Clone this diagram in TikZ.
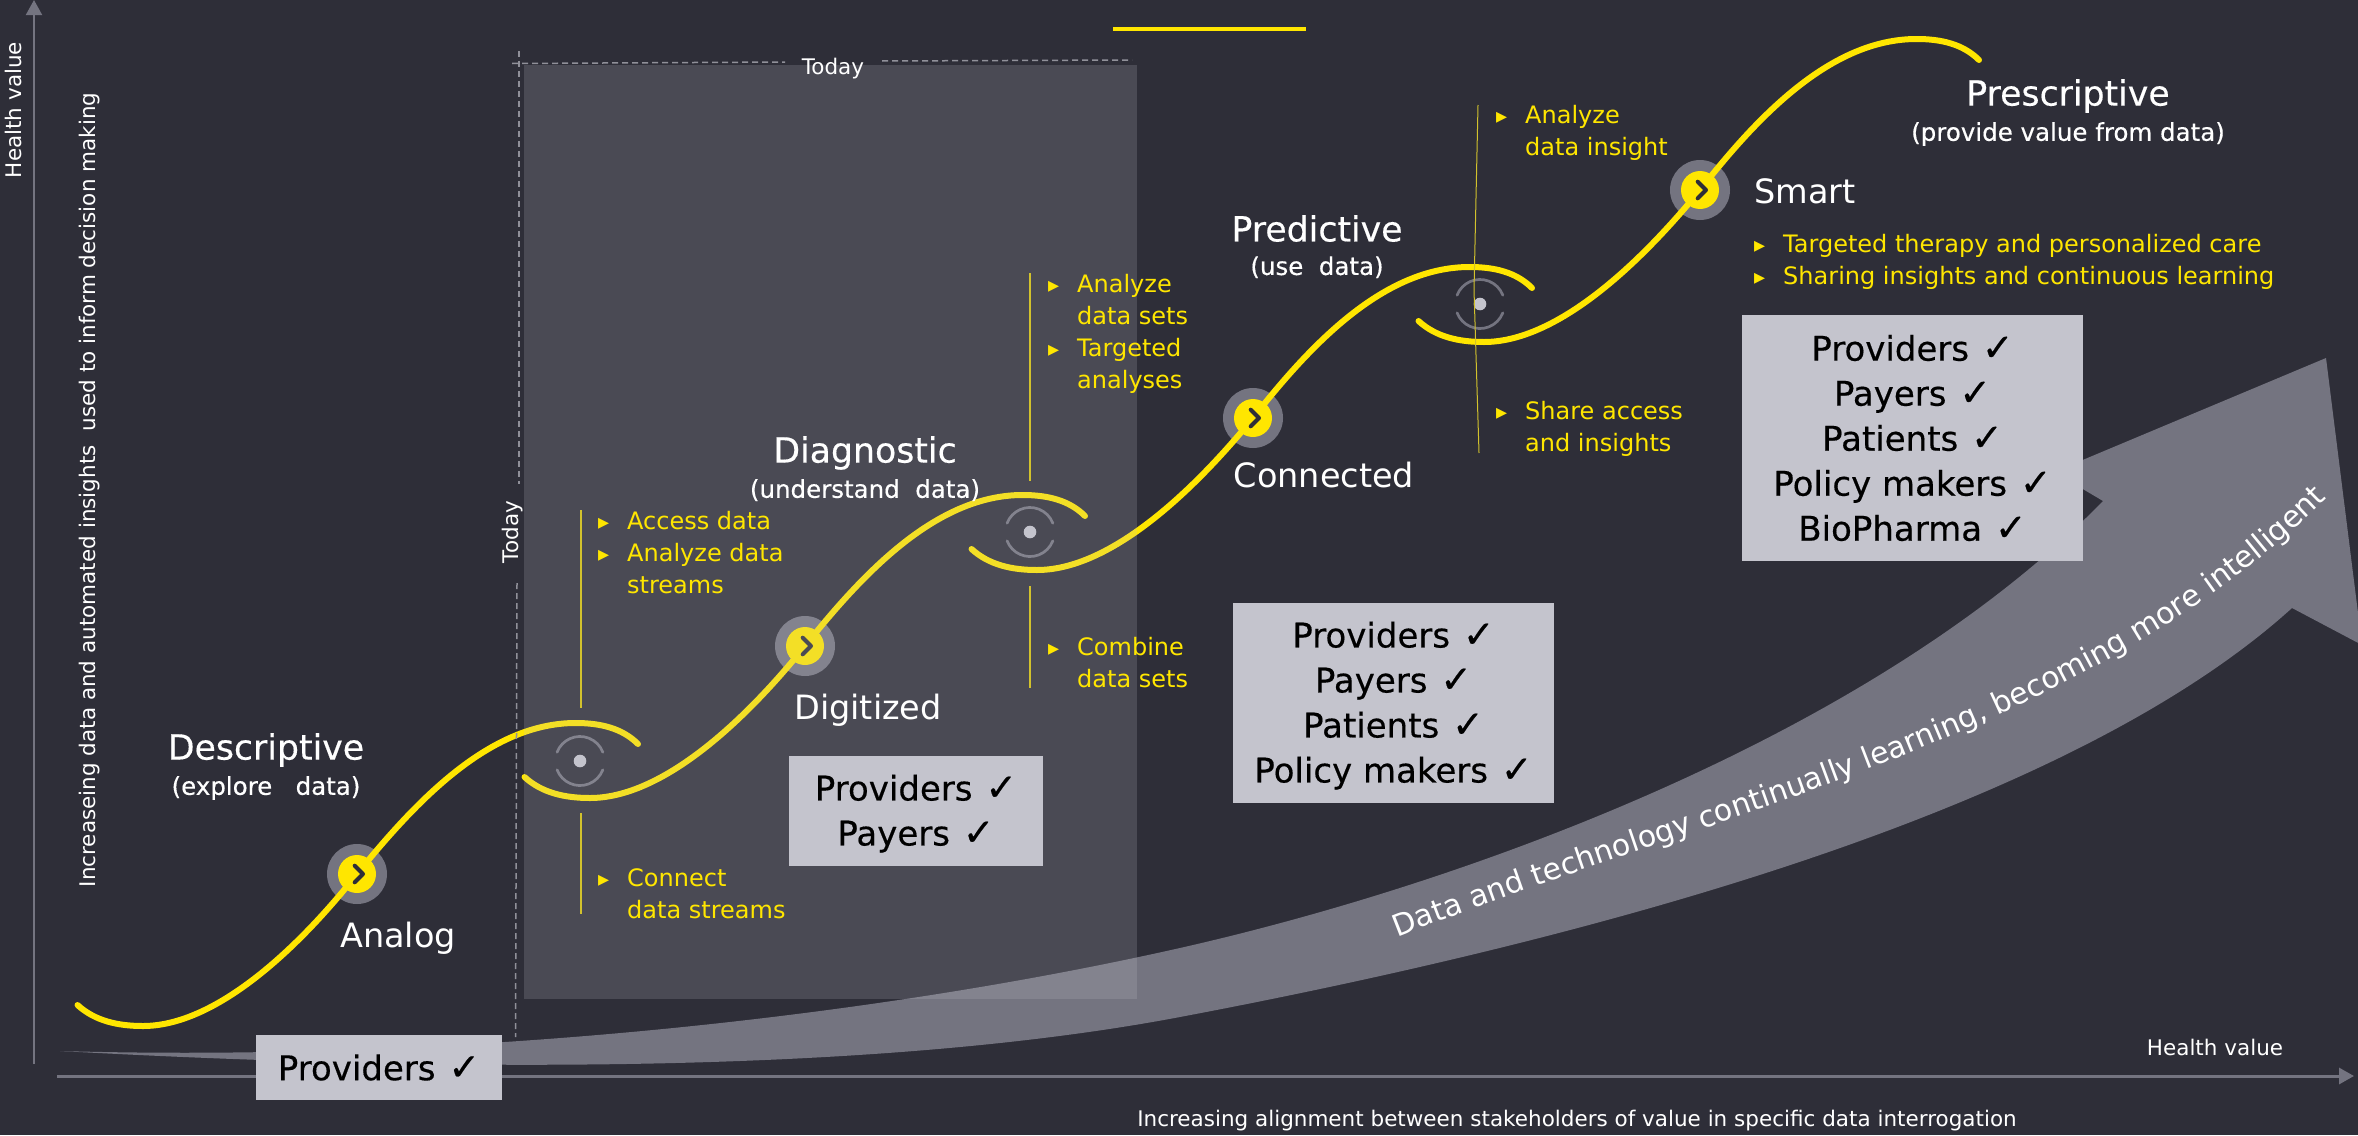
\documentclass[tikz,border=0pt]{standalone}
\usepackage{fontspec}
\setmainfont{DejaVu Sans}
\newfontfamily\semifont[FakeBold=0.4]{DejaVu Sans}
\usetikzlibrary{positioning,arrows.meta,decorations.text}

\definecolor{bgdark}{HTML}{2E2E38}
\definecolor{eyyellow}{HTML}{FFE600}
\definecolor{eygrey}{HTML}{C4C4CD}
\definecolor{midgrey}{HTML}{747480}

\newcommand{\bulletmark}{\makebox[29pt][l]{\fontsize{22}{22}\selectfont ▸}}
\newcommand{\bulletgap}{\hspace*{29pt}}
\newcommand{\tick}{\hspace{2pt}{\fontsize{38}{38}\selectfont ✓}}

\begin{document}
\begin{tikzpicture}[
	x=1pt, y=-1pt,
	every node/.style={inner sep=0pt, text=white},
	stagetitle/.style={font=\semifont\fontsize{34.7}{40}\selectfont},
	stagesub/.style={font=\semifont\fontsize{24.5}{30}\selectfont},
	stagename/.style={font=\fontsize{33.5}{40}\selectfont},
	smalllabel/.style={font=\fontsize{21.5}{26}\selectfont},
	listtext/.style={font=\fontsize{24}{32}\selectfont, text=eyyellow, align=left, anchor=west},
	whobox/.style={rectangle, fill=eygrey, text=black, align=center, font=\semifont\fontsize{34}{45}\selectfont},
	ring/.style={circle, fill=midgrey, minimum size=60pt},
	disc/.style={circle, fill=eyyellow, minimum size=38pt},
	scurve/.style={draw=eyyellow, line width=6pt, line cap=round},
	guide/.style={draw=eyyellow!65!gray, line width=1.3pt},
	axisline/.style={draw=midgrey, -{Triangle[length=15pt,width=16pt]}},
	todayline/.style={draw=midgrey!80!white, line width=1.5pt, dash pattern=on 6pt off 4pt},
	eyemark/.pic={
		\draw [midgrey, line width=2.7pt, line cap=round] (-22.9,-8.8) arc [start angle=159, end angle=21, radius=24.5pt];
		\draw [midgrey, line width=2.7pt, line cap=round] (-22.9,8.8) arc [start angle=201, end angle=339, radius=24.5pt];
		\fill [eygrey] (0,0) circle (6.3pt);
	},
	chevron/.pic={
		\draw [bgdark, line width=4pt, line cap=round, line join=round] (-2.3,-8.3) -- (6,0) -- (-2.3,8.3);
	}
	]

	\useasboundingbox (0,0) rectangle (2358,1135);
	\fill [bgdark] (0,0) rectangle (2358,1135);

	% axes
	\coordinate (ybase) at (34,1064);
	\coordinate (ytop) at (34,0);
	\coordinate (xbase) at (57,1076);
	\coordinate (xtop) at (2354,1076);
	\draw [axisline, line width=2pt] (ybase) -- (ytop);
	\draw [axisline, line width=3pt] (xbase) -- (xtop);

	\coordinate (barl) at (1113,29);
	\coordinate (barr) at (1306,29);
	\draw [draw=eyyellow, line width=4.5pt] (barl) -- (barr);

	% growing arrow
	\fill [midgrey] (60,1051) .. controls (450,1062) and (860,1020) .. (1180,948)
		.. controls (1480,880) and (1880,730) .. (2103,501)
		-- (2054,472) -- (2326,358) -- (2362,645) -- (2292,608)
		.. controls (2080,800) and (1640,930) .. (1180,1017)
		.. controls (900,1070) and (500,1075) .. cycle;

	% stages on the curve
	\node (analog) at (357,874) [ring] {};
	\node (digitized) at (805,646) [ring] {};
	\node (connected) at (1253,418) [ring] {};
	\node (smart) at (1700,190) [ring] {};

	\coordinate (s1) at (77.5,1005);
	\coordinate (e1) at (638,744);
	\coordinate (s2) at (524.5,777);
	\coordinate (e2) at (1085,516);
	\coordinate (s3) at (971.5,549);
	\coordinate (e3) at (1532,288);
	\coordinate (s4) at (1418.5,321);
	\coordinate (e4) at (1979,60);

	\draw [scurve] (s1) .. controls (95,1021) and (118,1026) .. (143,1026) .. controls (215,1026) and (297,950) .. (analog.center) .. controls (417,800) and (490,723) .. (575.6,723) .. controls (600,723) and (622,728) .. (e1);
	\draw [scurve] (s2) .. controls (542,793) and (565,798) .. (590,798) .. controls (662,798) and (744,722) .. (digitized.center) .. controls (864,572) and (937,495) .. (1022.6,495) .. controls (1047,495) and (1069,500) .. (e2);
	\draw [scurve] (s3) .. controls (989,565) and (1012,570) .. (1037,570) .. controls (1109,570) and (1191,494) .. (connected.center) .. controls (1311,344) and (1384,267) .. (1469.6,267) .. controls (1494,267) and (1516,272) .. (e3);
	\draw [scurve] (s4) .. controls (1436,337) and (1459,342) .. (1484,342) .. controls (1556,342) and (1638,266) .. (smart.center) .. controls (1758,116) and (1831,39) .. (1916.6,39) .. controls (1941,39) and (1963,44) .. (e4);

	\node (analogdot) at (analog) [disc] {};
	\node (digitizeddot) at (digitized) [disc] {};
	\node (connecteddot) at (connected) [disc] {};
	\node (smartdot) at (smart) [disc] {};
	\pic at (analog) {chevron};
	\pic at (digitized) {chevron};
	\pic at (connected) {chevron};
	\pic at (smart) {chevron};

	\pic at (580,761) {eyemark};
	\pic at (1030,532) {eyemark};
	\pic at (1480,304) {eyemark};

	% today panel lies over the curve
	\node (panel) at (830.5,532) [rectangle, fill=eygrey, fill opacity=.19, minimum width=613pt, minimum height=934pt] {};

	\coordinate (vt) at (519,51);
	\coordinate (vm) at (519,484);
	\coordinate (vn) at (517,583);
	\coordinate (vb) at (515.5,1037);
	\coordinate (hl) at (512,63.5);
	\coordinate (hm) at (785,62);
	\coordinate (hn) at (882,61);
	\coordinate (hr) at (1132,60);
	\draw [todayline] (vt) -- (vm);
	\draw [todayline] (vn) -- (vb);
	\draw [todayline] (hl) -- (hm);
	\draw [todayline] (hn) -- (hr);
	\node (todayh) at (833,69) [smalllabel] {Today};
	\node (todayv) at (513,532) [smalllabel, rotate=90] {Today};

	% thin lines at the eyes
	\coordinate (g1a) at (581,510);
	\coordinate (g1b) at (581,708);
	\coordinate (g1c) at (581,813);
	\coordinate (g1d) at (581,914);
	\coordinate (g2a) at (1030,273);
	\coordinate (g2b) at (1030,481);
	\coordinate (g2c) at (1030,586);
	\coordinate (g2d) at (1030,688);
	\coordinate (g3a) at (1478,105);
	\coordinate (g3b) at (1474,290);
	\coordinate (g3c) at (1479,453);
	\draw [guide] (g1a) -- (g1b);
	\draw [guide] (g1c) -- (g1d);
	\draw [guide] (g2a) -- (g2b);
	\draw [guide] (g2c) -- (g2d);
	\draw [guide, line width=1pt] (g3a) -- (g3b) -- (g3c);

	% lists
	\node (list1a) at (598,553) [listtext] {\bulletmark Access data\\\bulletmark Analyze data\\\bulletgap streams};
	\node (list1b) at (598,894) [listtext] {\bulletmark Connect\\\bulletgap data streams};
	\node (list2a) at (1048,334) [listtext] {\bulletmark Analyze\\\bulletgap data sets\\\bulletmark Targeted\\\bulletgap analyses};
	\node (list2b) at (1048,663) [listtext] {\bulletmark Combine\\\bulletgap data sets};
	\node (list3a) at (1496,133) [listtext] {\bulletmark Analyze\\\bulletgap data insight};
	\node (list3b) at (1496,429) [listtext] {\bulletmark Share access\\\bulletgap and insights};
	\node (list4) at (1754,262) [listtext] {\bulletmark Targeted therapy and personalized care\\\bulletmark Sharing insights and continuous learning};

	% titles
	\node (descriptive) at (266,750) [stagetitle] {Descriptive};
	\node (descriptivesub) [below=9pt of descriptive, stagesub] {(explore\ \ \ data)};
	\node (diagnostic) at (865,453) [stagetitle] {Diagnostic};
	\node (diagnosticsub) [below=9pt of diagnostic, stagesub] {(understand\ \ data)};
	\node (predictive) at (1317,228.5) [stagetitle] {Predictive};
	\node (predictivesub) [below=14pt of predictive, stagesub] {(use\ \ data)};
	\node (prescriptive) at (2068,96) [stagetitle] {Prescriptive};
	\node (prescriptivesub) [below=9pt of prescriptive, stagesub] {(provide value from data)};

	\node (analogname) at (398,938) [stagename] {Analog};
	\node (digitizedname) at (868,710) [stagename] {Digitized};
	\node (connectedname) at (1324,475) [stagename] {Connected};
	\node (smartname) at (1805,191) [stagename] {Smart};

	% who is on board
	\node (who1) at (379,1067.5) [whobox, minimum width=246pt, minimum height=65pt] {Providers \tick};
	\node (who2) at (916,811) [whobox, minimum width=254pt, minimum height=110pt] {\rule{0pt}{31pt}Providers \tick\\Payers \tick};
	\node (who3) at (1393.5,703) [whobox, minimum width=321pt, minimum height=200pt] {\rule{0pt}{31pt}Providers \tick\\Payers \tick\\Patients \tick\\Policy makers \tick};
	\node (who4) at (1912.5,438) [whobox, minimum width=341pt, minimum height=246pt] {Providers \tick\\Payers \tick\\Patients \tick\\Policy makers \tick\\BioPharma \tick};

	% axis labels
	\node (yname) at (13.5,110) [smalllabel, rotate=90] {Health value};
	\node (ytext) at (90,490) [smalllabel, rotate=90] {Increaseing data and automated insights\ \ used to inform decision making};
	\node (xname) at (2215,1047) [smalllabel] {Health value};
	\node (xtext) at (1577,1121) [smalllabel] {Increasing alignment between stakeholders of value in specific data interrogation};

	\coordinate (ta) at (1386,942);
	\coordinate (tb) at (2335,490);
	\path [decorate, decoration={text along path, text align=center, text={|\fontsize{30}{30}\selectfont\color{white}|Data and technology continually learning, becoming more intelligent}}] (ta) .. controls (1700,815) and (2090,740) .. (tb);
\end{tikzpicture}
\end{document}
